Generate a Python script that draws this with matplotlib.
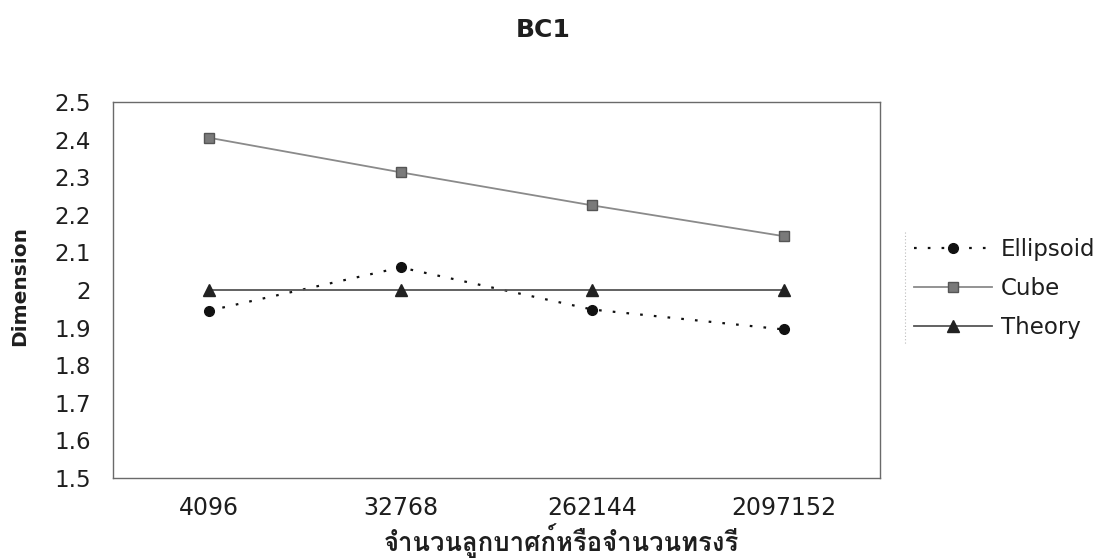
import matplotlib
matplotlib.use("Agg")
import matplotlib.pyplot as plt
from matplotlib import font_manager
from matplotlib.ft2font import FT2Font
from matplotlib.lines import Line2D

# Data
categories = ["4096", "32768", "262144", "2097152"]
ellipsoid = [1.945, 2.060, 1.948, 1.895]
cube = [2.405, 2.313, 2.225, 2.143]
theory = [2.0, 2.0, 2.0, 2.0]
y_ticks = [1.5, 1.6, 1.7, 1.8, 1.9, 2.0, 2.1, 2.2, 2.3, 2.4, 2.5]
y_tick_labels = ["1.5", "1.6", "1.7", "1.8", "1.9", "2", "2.1", "2.2", "2.3", "2.4", "2.5"]

title = "BC1"
x_label = "จำนวนลูกบาศก์หรือจำนวนทรงรี"
y_label = "Dimension"


def find_thai_family():
    for fe in font_manager.fontManager.ttflist:
        try:
            cmap = FT2Font(fe.fname).get_charmap()
        except Exception:
            continue
        if ord("จ") in cmap and ord("ศ") in cmap:
            return fe.name
    return None


thai_family = find_thai_family()
base = ["DejaVu Sans"]
plt.rcParams["font.family"] = base
text_color = "#1e1e1e"

fig = plt.figure(figsize=(11.06, 5.6), dpi=100)
ax = fig.add_axes([113 / 1106, 1 - 478 / 560, (880 - 113) / 1106, (478 - 102) / 560])

x = list(range(len(categories)))
ax.plot(x, ellipsoid, linestyle=(0, (1.2, 5.0)), color="#111111", lw=1.6,
        marker="o", ms=7, mfc="#111111", mec="#111111", label="Ellipsoid")
ax.plot(x, cube, linestyle="-", color="#8a8a8a", lw=1.3,
        marker="s", ms=7, mfc="#7a7a7a", mec="#555555", label="Cube")
ax.plot(x, theory, linestyle="-", color="#555555", lw=1.3,
        marker="^", ms=8.5, mfc="#222222", mec="#222222", label="Theory")

ax.set_xlim(-0.5, len(categories) - 0.5)
ax.set_ylim(1.5, 2.5)
ax.set_xticks(x)
ax.set_xticklabels(categories, fontsize=17, color=text_color)
ax.set_yticks(y_ticks)
ax.set_yticklabels(y_tick_labels, fontsize=16.5, color=text_color)
ax.tick_params(length=0)
ax.tick_params(axis="y", pad=16)
ax.tick_params(axis="x", pad=13)

for s in ax.spines.values():
    s.set_color("#6a6a6a")
    s.set_linewidth(1.0)

ax.set_ylabel(y_label, fontsize=14.5, fontweight="bold", color=text_color)
ax.yaxis.set_label_coords(-84 / 767, 0.51)

xl_family = [thai_family] + base if thai_family else base
ax.set_xlabel(x_label, fontsize=18.5, fontweight="bold", family=xl_family,
              color=text_color)
ax.xaxis.label.set_va("center")
ax.xaxis.set_label_coords(0.585, -63 / 376)

fig.text(543 / 1106, 1 - 30 / 560, title, ha="center", va="center",
         fontsize=18, fontweight="bold", color=text_color)

leg = ax.legend(loc="upper left", bbox_to_anchor=(907 / 1106, 1 - 231 / 560),
                bbox_transform=fig.transFigure, frameon=False, fontsize=16.5,
                handlelength=3.4, handletextpad=0.4, labelspacing=0.7,
                borderaxespad=0, borderpad=0.3)
for t in leg.get_texts():
    t.set_color(text_color)

# thin rule along the legend's left edge
fig.add_artist(Line2D([905 / 1106, 905 / 1106], [1 - 232 / 560, 1 - 345 / 560],
                      transform=fig.transFigure, color="#bbbbbb", lw=0.8,
                      linestyle=(0, (1, 2))))

fig.savefig("out.png", dpi=100, facecolor="white")
